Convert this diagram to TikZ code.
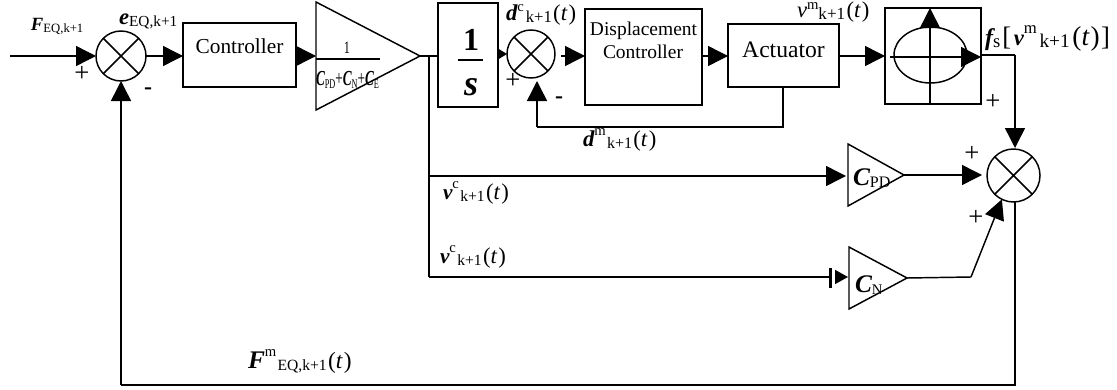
\documentclass[tikz,border=0pt]{standalone}
\usepackage{fontspec}
\usepackage{graphicx}
\setmainfont{Liberation Serif}
\usetikzlibrary{arrows.meta,shapes.geometric,calc}
\newcommand\fs[2]{{\fontsize{#1}{#1}\selectfont #2}}
\newcommand\bi[2][16]{\fs{#1}{\bfseries\itshape #2}}
\newcommand\lo[2][12]{\raisebox{-2.2pt}{\fs{#1}{#2}}}
\newcommand\hi[3][11]{\raisebox{#2}{\fs{#1}{#3}}}
\newcommand\tpar[1][17]{\hspace{1pt}\fs{#1}{(\textit{t}\hspace{.8pt})}}
\tikzset{
  wire/.style={line width=1.1pt},
  arr/.style={wire,-{Triangle[length=15pt,width=15pt]}},
  smallarr/.style={wire,-{Triangle[length=6pt,width=7pt]}},
  tiponly/.style={wire,-{Triangle[length=9.75pt,width=10.5pt]}},
  barline/.style={line width=2pt},
  blockbox/.style={draw,line width=1.1pt,rectangle,inner sep=0pt,outer sep=0pt,align=center},
  sumnode/.style={draw,line width=1.1pt,circle,inner sep=0pt,outer sep=0pt,minimum size=#1,
    path picture={
      \draw[line width=1.1pt] (path picture bounding box.south west) -- (path picture bounding box.north east)
        (path picture bounding box.north west) -- (path picture bounding box.south east);}},
  gain/.style={draw,line width=1.1pt,isosceles triangle,isosceles triangle stretches,inner sep=0pt,outer sep=0pt,anchor=lower side},
  txt/.style={inner sep=0pt,outer sep=0pt,anchor=base west},
  sign/.style={inner sep=0pt,outer sep=0pt,anchor=base,font=\fontsize{20}{20}\selectfont},
  minus/.style={inner sep=0pt,outer sep=0pt,anchor=base,font=\fontsize{18}{18}\selectfont\bfseries},
}
\begin{document}
\begin{tikzpicture}[x=0.75pt,y=-0.75pt]
\useasboundingbox (0,0) rectangle (1117,389);
% blocks
\node[sumnode=37.5pt] (s1) at (121,56) {};
\node[blockbox,minimum width=84.75pt,minimum height=48pt] (ctrl) at (239.5,55) {};
\node[gain,minimum width=81pt,minimum height=78pt] (g) at (316,56) {};
\node[blockbox,minimum width=45pt,minimum height=78pt] (int) at (468,55) {};
\node[sumnode=36pt] (s2) at (531,54) {};
\node[blockbox,minimum width=87.75pt,minimum height=72pt] (dc) at (643.5,57) {};
\node[blockbox,minimum width=83.25pt,minimum height=47.25pt] (act) at (783.5,55.5) {};
\node[blockbox,minimum width=72pt,minimum height=72pt] (nl) at (933,56) {};
\node[draw,line width=1.1pt,ellipse,inner sep=0pt,outer sep=0pt,minimum width=54.75pt,minimum height=42pt] (el) at (930.5,55) {};
\node[sumnode=39.75pt] (s3) at (1013.5,175.5) {};
\node[gain,minimum width=46.5pt,minimum height=42pt] (cpd) at (848,175) {};
\node[gain,minimum width=46.5pt,minimum height=43.5pt] (cn) at (849,278) {};
% inner texts
\node[txt,anchor=base] (ctxt) at (239.5,53) {\fs{16}{Controller}};
\node[txt,anchor=base] (dctxt) at (643.5,36) {\fs{14.6}{Displacement}};
\node[txt,anchor=base] (dctxt2) at (643,58) {\fs{14.6}{Controller}};
\node[txt,anchor=base] (acttxt) at (783.5,57) {\fs{17.7}{Actuator}};
\node[txt,anchor=base] (one) at (471,50) {\fs{24}{\bfseries 1}};
\node[txt,anchor=base] (ess) at (471,95) {\bi[27]{s}};
\coordinate (ibl) at (458,60); \coordinate (ibr) at (483,60);
\draw[wire] (ibl) -- (ibr);
\node[txt,anchor=base] (gone) at (347,53) {\fs{13}{\scalebox{0.7}[1]{1}}};
\coordinate (gbl) at (316,59); \coordinate (gbr) at (380,59);
\draw[line width=0.8pt] (gbl) -- (gbr);
\node[txt] (gden) at (316,85.5) {\scalebox{0.62}[1]{\fs{16}{\bfseries\itshape C\raisebox{-2pt}{\fs{10}{\mdseries\upshape PD}}\mdseries\upshape +\bfseries\itshape C\raisebox{-2pt}{\fs{10}{\mdseries\upshape N}}\mdseries\upshape +\bfseries\itshape C\raisebox{-2pt}{\fs{10}{\mdseries\upshape E}}}}};
\node[txt] (ccpd) at (853,185) {\bi[19]{C}\lo[12]{PD}};
\node[txt] (ccn) at (855,292) {\bi[19]{C}\lo[11]{N}};
% coordinates
\coordinate (in) at (10,56);
\coordinate (gout) at (438,56);
\coordinate (j1) at (429,56);
\coordinate (j2) at (429,176);
\coordinate (j3) at (429,277);
\coordinate (cpdin) at (846,176);
\coordinate (barm) at (830.5,277);
\coordinate (bart) at (830.5,268);
\coordinate (barb) at (830.5,288);
\coordinate (tipst) at (835,277);
\coordinate (cnin) at (848,277);
\coordinate (s2out) at (561,56);
\coordinate (dcin) at (585,56);
\coordinate (axl) at (890,57);
\coordinate (axr) at (981,57);
\coordinate (axt) at (930,8);
\coordinate (axb) at (930,104);
\coordinate (o1) at (1015,55);
\coordinate (nlo) at (981,55);
\coordinate (s3top) at (1015,148);
\coordinate (s3in) at (982,175);
\coordinate (bend) at (971,277);
\coordinate (fb1) at (1015,385);
\coordinate (fb2) at (121,385);
\coordinate (fb3) at (121,81);
\coordinate (am) at (783,87);
\coordinate (am2) at (783,127);
\coordinate (am3) at (537,127);
\coordinate (am4) at (537,81);
% connectors
\draw[arr] (in) -- (s1.west);
\draw[arr] (s1.east) -- (s1.east -| ctrl.west);
\draw[arr] (ctrl.east |- g.lower side) -- (g.lower side);
\draw[wire] (g.apex) -- (gout);
\draw[wire] (j1) -- (j3);
\draw[arr] (j2) -- (cpdin);
\draw[wire] (j3) -- (barm);
\draw[barline] (bart) -- (barb);
\draw[tiponly] (tipst) -- (cnin);
\draw[smallarr] (s2.west -| int.east) -- (s2.west);
\draw[arr] (s2out) -- (dcin);
\draw[arr] (dc.east |- dcin) -- (dcin -| act.west);
\draw[arr] (act.east |- dcin) -- (dcin -| nl.west);
\draw[arr] (axl) -- (axr);
\draw[arr] (axb) -- (axt);
\draw[wire] (am) -- (am2) -- (am3);
\draw[arr] (am3) -- (am4);
\draw[wire] (nlo) -- (o1);
\draw[arr] (o1) -- (s3top);
\draw[arr] (cpd.apex) -- (s3in);
\draw[wire] (cn.apex) -- (bend);
\draw[arr] (bend) -- (s3.244);
\draw[wire] (s3.south -| fb1) -- (fb1) -- (fb2);
\draw[arr] (fb2) -- (fb3);
% labels
\node[txt] (lf) at (31,30) {\bi[14]{F}\lo[9.5]{EQ,k+1}};
\node[txt] (le) at (119,24) {\bi[17]{e}\lo[11.5]{EQ,k+1}};
\node[txt] (ld) at (506,20) {\bi[17]{d}\hi{6pt}{c}\hspace{1.5pt}\lo[12.5]{k+1}\tpar};
\node[txt] (ldm) at (583,146) {\bi[17]{d}\hi{8pt}{m}\hspace{1pt}\lo{k+1}\tpar};
\node[txt] (lvm) at (797,17) {\fs{17}{\itshape v}\hi{5.5pt}{m}\lo[12.8]{k+1}\tpar};
\node[txt] (lfs) at (985,45) {\bi[18]{f}\lo[14]{s}\hspace{1.5pt}\fs{20}{[}\hspace{2pt}\bi[17]{v}\hi[12.5]{9pt}{m}\hspace{2pt}\lo[14.5]{k+1}\hspace{1pt}\tpar[20.5]\hspace{1pt}\fs{20}{]}};
\node[txt] (lv1) at (443,199) {\bi[16]{v}\hi{8pt}{c}\hspace{1pt}\lo[11.7]{k+1}\tpar};
\node[txt] (lv2) at (440,263) {\bi[16]{v}\hi{8pt}{c}\hspace{1pt}\lo[11.7]{k+1}\tpar};
\node[txt] (lfm) at (248,368) {\bi[19]{F}\hi{9pt}{m}\hspace{1pt}\lo[11.7]{EQ,k+1}\tpar[17.5]};
% signs
\node[sign] (p1) at (82,81) {+};
\node[minus] (m1) at (148,94) {-};
\node[sign] (p2) at (513,88) {+};
\node[minus] (m2) at (559,103) {-};
\node[sign] (p3) at (993,109) {+};
\node[sign] (p4) at (972,161) {+};
\node[sign] (p5) at (976,225) {+};
\end{tikzpicture}
\end{document}
